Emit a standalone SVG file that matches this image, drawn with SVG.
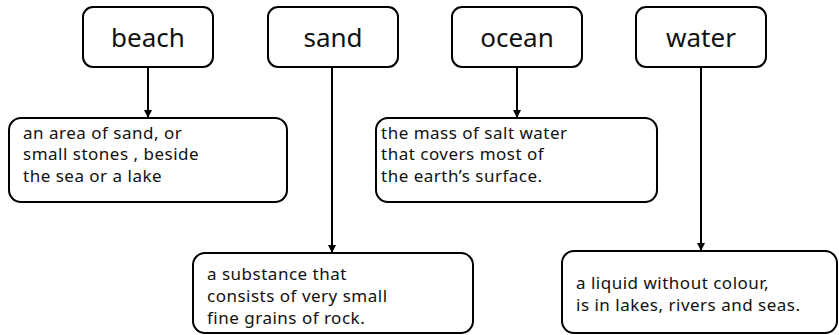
<svg xmlns="http://www.w3.org/2000/svg" width="839" height="335" viewBox="0 0 839 335">
  <style>
    .box { fill: #fff; stroke: #000; stroke-width: 2; }
    .term { font-family: "Noto Sans", "Liberation Sans", sans-serif; font-size: 26px; fill: #111; text-anchor: middle; }
    .def { font-family: "Noto Sans", "Liberation Sans", sans-serif; font-size: 17px; letter-spacing: 0.5px; fill: #111; }
    .link { stroke: #000; stroke-width: 2; fill: none; marker-end: url(#arrow); }
  </style>
  <defs>
    <marker id="arrow" viewBox="0 0 10 10" refX="10" refY="5" markerWidth="4" markerHeight="4" markerUnits="strokeWidth" orient="auto">
      <path d="M0,0 L10,5 L0,10 z" fill="#000"/>
    </marker>
  </defs>
  <rect width="839" height="335" fill="#fff"/>

  <g id="connectors">
    <line class="link" x1="148" y1="67" x2="148" y2="118"/>
    <line class="link" x1="332" y1="67" x2="332" y2="253"/>
    <line class="link" x1="517" y1="67" x2="517" y2="118"/>
    <line class="link" x1="701" y1="67" x2="701" y2="251"/>
  </g>

  <g id="beach">
    <rect class="box" x="83" y="7" width="130" height="60" rx="10"/>
    <text class="term" x="148" y="47">beach</text>
  </g>
  <g id="sand">
    <rect class="box" x="268" y="7" width="130" height="60" rx="10"/>
    <text class="term" x="333" y="47">sand</text>
  </g>
  <g id="ocean">
    <rect class="box" x="452" y="7" width="130" height="60" rx="10"/>
    <text class="term" x="517" y="47">ocean</text>
  </g>
  <g id="water">
    <rect class="box" x="636" y="7" width="130" height="60" rx="10"/>
    <text class="term" x="701" y="47">water</text>
  </g>

  <g id="beach-def">
    <rect class="box" x="9" y="118" width="278" height="84" rx="12"/>
    <text class="def" x="23" y="139">an area of sand, or</text>
    <text class="def" x="23" y="160">small stones , beside</text>
    <text class="def" x="23" y="182">the sea or a lake</text>
  </g>
  <g id="ocean-def">
    <rect class="box" x="376" y="118" width="281" height="84" rx="12"/>
    <text class="def" x="381" y="139">the mass of salt water</text>
    <text class="def" x="381" y="160">that covers most of</text>
    <text class="def" x="381" y="182">the earth’s surface.</text>
  </g>
  <g id="sand-def">
    <rect class="box" x="193" y="253" width="280" height="80" rx="12"/>
    <text class="def" x="207" y="280">a substance that</text>
    <text class="def" x="207" y="302">consists of very small</text>
    <text class="def" x="207" y="324">fine grains of rock.</text>
  </g>
  <g id="water-def">
    <rect class="box" x="562" y="251" width="275" height="82" rx="12"/>
    <text class="def" x="576" y="289">a liquid without colour,</text>
    <text class="def" x="576" y="311">is in lakes, rivers and seas.</text>
  </g>
</svg>
